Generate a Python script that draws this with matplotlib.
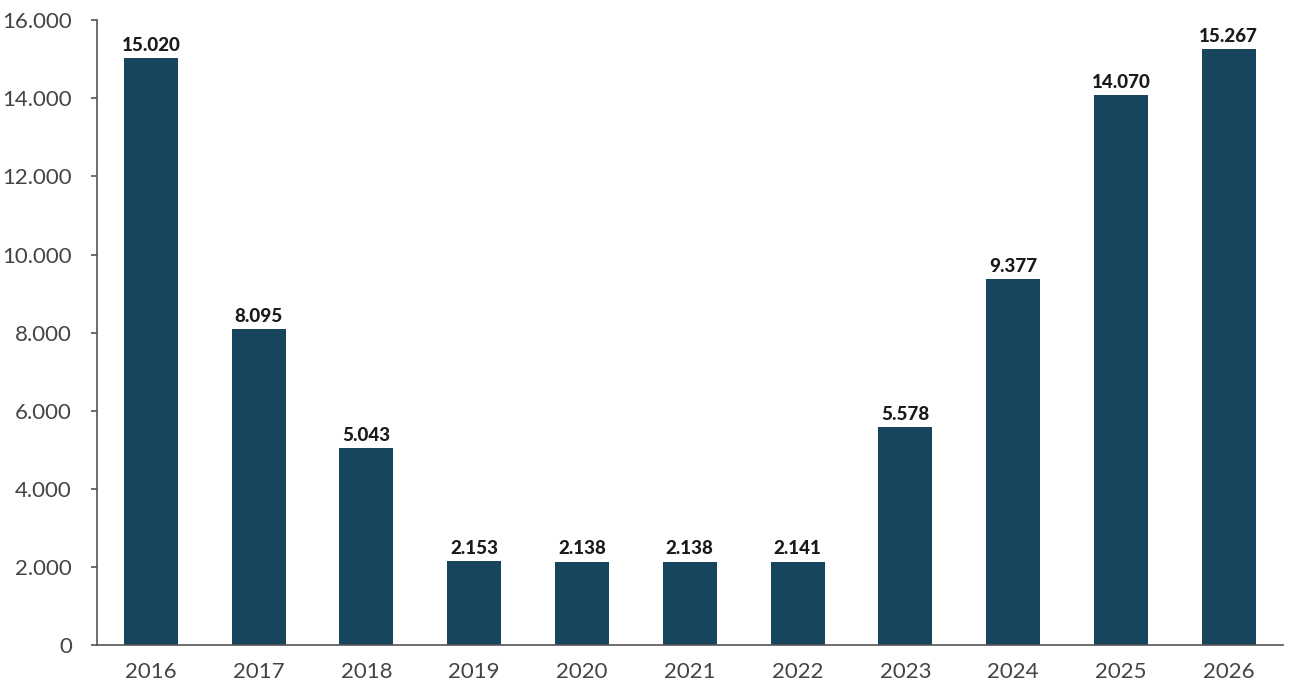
import matplotlib
matplotlib.use("Agg")
import matplotlib.pyplot as plt
from matplotlib.ticker import FuncFormatter, MultipleLocator

years = ["2016", "2017", "2018", "2019", "2020", "2021", "2022", "2023", "2024", "2025", "2026"]
values = [15020, 8095, 5043, 2153, 2138, 2138, 2141, 5578, 9377, 14070, 15267]

plt.rcParams['font.family'] = ['Lato', 'DejaVu Sans']

fig = plt.figure(figsize=(13, 6.93), dpi=100)
ax = fig.add_axes([0.0746, 0.069, 0.912, 0.902])

x = range(len(years))
bars = ax.bar(x, values, width=0.5, color='#17455e')

def fmt(v):
    return f"{int(round(v)):,}".replace(",", ".")

for xi, v in zip(x, values):
    ax.annotate(fmt(v), (xi, v), xytext=(0, 3), textcoords='offset points',
                ha='center', va='bottom', fontsize=13.5, fontweight='black', color='#1a1a1a')

ax.set_xlim(-0.5, 10.5)
ax.set_ylim(0, 16000)
ax.yaxis.set_major_locator(MultipleLocator(2000))
ax.yaxis.set_major_formatter(FuncFormatter(lambda v, p: fmt(v)))
ax.set_xticks(list(x))
ax.set_xticklabels(years)

for s in ['top', 'right']:
    ax.spines[s].set_visible(False)
for s in ['left', 'bottom']:
    ax.spines[s].set_color('#555555')
    ax.spines[s].set_linewidth(1.2)

ax.tick_params(axis='y', length=4, width=1.2, color='#555555', labelsize=16, labelcolor='#444444', pad=14)
ax.tick_params(axis='x', length=0, labelsize=16, labelcolor='#444444', pad=12)

fig.savefig("out.png", dpi=100)
